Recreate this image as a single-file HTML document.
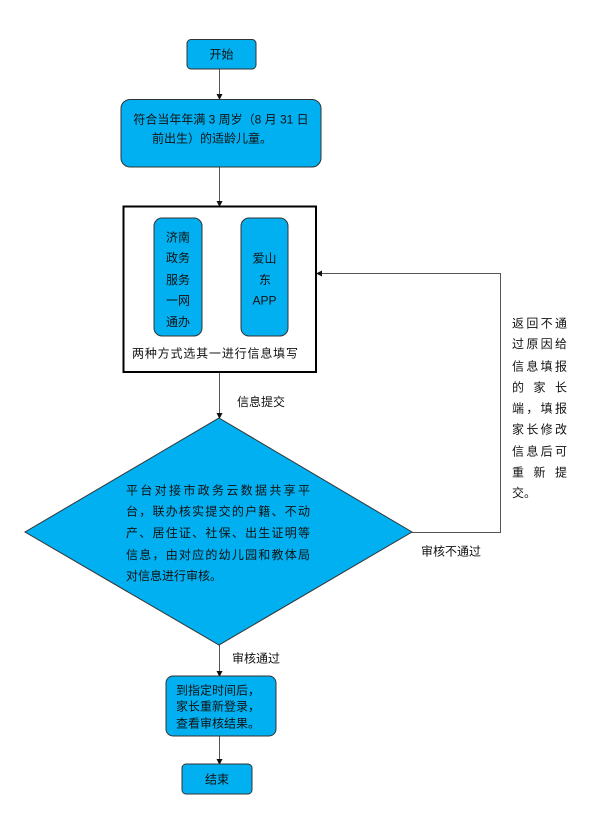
<!DOCTYPE html>
<html><head><meta charset="utf-8">
<style>
html,body{margin:0;padding:0;background:#fff;}
svg{display:block;}
text{font-family:"Liberation Sans","Noto Sans CJK SC",sans-serif;font-size:12px;fill:#111;}
</style></head>
<body>
<svg width="608" height="818" viewBox="0 0 608 818" xmlns="http://www.w3.org/2000/svg">
<defs>
<marker id="ah" markerWidth="6" markerHeight="6" refX="5" refY="3" orient="auto" markerUnits="userSpaceOnUse">
<path d="M0,0 L6,3 L0,6 z" fill="#111"/>
</marker>
</defs>
<rect x="0" y="0" width="608" height="818" fill="#fff"/>

<!-- connectors -->
<g stroke="#555" stroke-width="1" fill="none">
<line x1="219.5" y1="69" x2="219.5" y2="99" marker-end="url(#ah)"/>
<line x1="219.5" y1="167" x2="219.5" y2="206" marker-end="url(#ah)"/>
<line x1="219.5" y1="372" x2="219.5" y2="418" marker-end="url(#ah)"/>
<line x1="219.5" y1="645" x2="219.5" y2="676" marker-end="url(#ah)"/>
<line x1="219.5" y1="736" x2="219.5" y2="764" marker-end="url(#ah)"/>
<polyline points="412,532.5 500.5,532.5 500.5,273.5 317,273.5" marker-end="url(#ah)"/>
</g>

<!-- start -->
<rect x="187" y="39.5" width="69" height="29.5" rx="4" fill="#00b0f0" stroke="#333" stroke-width="1"/>
<text x="221.5" y="58.5" text-anchor="middle" font-size="13">开始</text>

<!-- box 2 -->
<rect x="121" y="99.5" width="200" height="67.5" rx="9" fill="#00b0f0" stroke="#333" stroke-width="1"/>
<text x="221" y="123.5" text-anchor="middle">符合当年年满 3 周岁（8 月 31 日</text>
<text x="212" y="142.5" text-anchor="middle">前出生）的适龄儿童。</text>

<!-- box 3 -->
<rect x="123.5" y="206.5" width="192.5" height="165.5" fill="#fff" stroke="#000" stroke-width="2"/>
<rect x="154" y="218" width="48" height="118" rx="8" fill="#00b0f0" stroke="#333" stroke-width="1"/>
<g text-anchor="middle">
<text x="178" y="241.5">济南</text>
<text x="178" y="262">政务</text>
<text x="178" y="284">服务</text>
<text x="178" y="304.5">一网</text>
<text x="178" y="326">通办</text>
</g>
<rect x="241" y="218" width="47" height="118" rx="8" fill="#00b0f0" stroke="#333" stroke-width="1"/>
<g text-anchor="middle">
<text x="264.5" y="262.5">爱山</text>
<text x="265" y="284">东</text>
<text x="264.5" y="304.5">APP</text>
</g>
<text x="132" y="357.5" textLength="166" lengthAdjust="spacing" font-size="12.5">两种方式选其一进行信息填写</text>

<text x="237" y="406">信息提交</text>

<!-- diamond -->
<polygon points="219,418 412,532 219,645 25,532" fill="#00b0f0" stroke="#333" stroke-width="1"/>
<text x="126" y="494.5" textLength="184" lengthAdjust="spacing">平台对接市政务云数据共享平</text>
<text x="126" y="515.5" textLength="184" lengthAdjust="spacing">台，联办核实提交的户籍、不动</text>
<text x="126" y="537" textLength="184" lengthAdjust="spacing">产、居住证、社保、出生证明等</text>
<text x="126" y="559" textLength="184" lengthAdjust="spacing">信息，由对应的幼儿园和教体局</text>
<text x="126" y="580">对信息进行审核。</text>

<text x="421" y="555.5">审核不通过</text>

<!-- right column -->
<text x="512" y="327.5" textLength="55" lengthAdjust="spacing">返回不通</text>
<text x="512" y="348" textLength="55" lengthAdjust="spacing">过原因给</text>
<text x="512" y="370.5" textLength="55" lengthAdjust="spacing">信息填报</text>
<text x="512" y="391.5" textLength="55" lengthAdjust="spacing">的家长</text>
<text x="512" y="412.5" textLength="55" lengthAdjust="spacing">端，填报</text>
<text x="512" y="433.5" textLength="55" lengthAdjust="spacing">家长修改</text>
<text x="512" y="455.5" textLength="55" lengthAdjust="spacing">信息后可</text>
<text x="512" y="476.5" textLength="55" lengthAdjust="spacing">重新提</text>
<text x="512" y="497">交。</text>

<text x="232" y="662.5">审核通过</text>

<!-- box 4 -->
<rect x="166" y="676" width="110" height="60" rx="7" fill="#00b0f0" stroke="#333" stroke-width="1"/>
<text x="176" y="694.5">到指定时间后，</text>
<text x="176" y="710.5">家长重新登录，</text>
<text x="176" y="727.5">查看审核结果。</text>

<!-- end -->
<rect x="182" y="764" width="70" height="30" rx="4" fill="#00b0f0" stroke="#333" stroke-width="1"/>
<text x="217" y="783.5" text-anchor="middle" font-size="13">结束</text>
</svg>
</body></html>
